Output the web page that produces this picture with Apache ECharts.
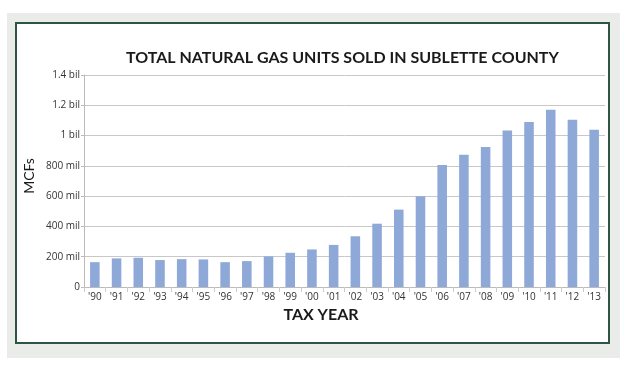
<!DOCTYPE html>
<html><head><meta charset="utf-8">
<script src="https://cdn.jsdelivr.net/npm/echarts@6/dist/echarts.min.js"></script>
<style>html,body{margin:0;padding:0;background:#fff}#c{width:625px;height:390px}</style>
</head><body><div id="c"></div>
<script>
const titleText = 'TOTAL NATURAL GAS UNITS SOLD IN SUBLETTE COUNTY';
const xAxisName = 'TAX YEAR';
const yAxisName = 'MCFs';
const categories = ["'90","'91","'92","'93","'94","'95","'96","'97","'98","'99","'00","'01","'02","'03","'04","'05","'06","'07","'08","'09","'10","'11","'12","'13"];
// values in millions of MCF
const values = [164,189,193,178,184,182,164,171,202,226,248,278,335,418,511,599,805,874,924,1034,1089,1171,1105,1039];
const tickLabels = {0:'0',200:'200 mil',400:'400 mil',600:'600 mil',800:'800 mil',1000:'1 bil',1200:'1.2 bil',1400:'1.4 bil'};

const chart = echarts.init(document.getElementById('c'));
chart.setOption({
  animation:false,
  backgroundColor:'#ffffff',
  graphic:[
    {type:'rect',z:-10,shape:{x:7,y:13,width:613,height:345},style:{fill:'#e9ece9'}},
    {type:'rect',z:-9,shape:{x:16,y:23,width:593,height:320},style:{fill:'#ffffff',stroke:'#2e5443',lineWidth:2}},
    {type:'text',z:10,x:321,y:315,style:{text:xAxisName,align:'center',verticalAlign:'middle',
      fontFamily:'Lato',fontWeight:'bold',fontSize:16,fill:'#1a1a1a'}},
    {type:'text',z:10,x:29,y:176,rotation:Math.PI/2,style:{text:yAxisName,align:'center',verticalAlign:'middle',
      fontFamily:'Lato',fontWeight:'normal',fontSize:14,fill:'#1a1a1a'}}
  ],
  title:{text:titleText,left:121,top:45,
    textStyle:{fontFamily:'Lato',fontWeight:'bold',fontSize:16,color:'#1a1a1a'}},
  grid:{left:84,right:20,top:75,bottom:103},
  xAxis:{type:'category',data:categories,
    axisLine:{lineStyle:{color:'#bbbbbb'}},axisTick:{show:true,lineStyle:{color:'#cccccc'}},
    axisLabel:{fontFamily:'Open Sans',fontSize:10,color:'#333',margin:5}},
  yAxis:{type:'value',min:0,max:1400,interval:200,
    axisLine:{show:true,lineStyle:{color:'#bbbbbb'}},axisTick:{show:true,length:3,lineStyle:{color:'#bbbbbb'}},
    axisLabel:{fontFamily:'Open Sans',fontSize:10,color:'#333',margin:4,formatter:v=>tickLabels[v]},
    splitLine:{lineStyle:{color:'#c8c8c8'}}},
  series:[{type:'bar',data:values,barWidth:'44%',itemStyle:{color:'#8ea8d8'}}]
});
</script></body></html>
